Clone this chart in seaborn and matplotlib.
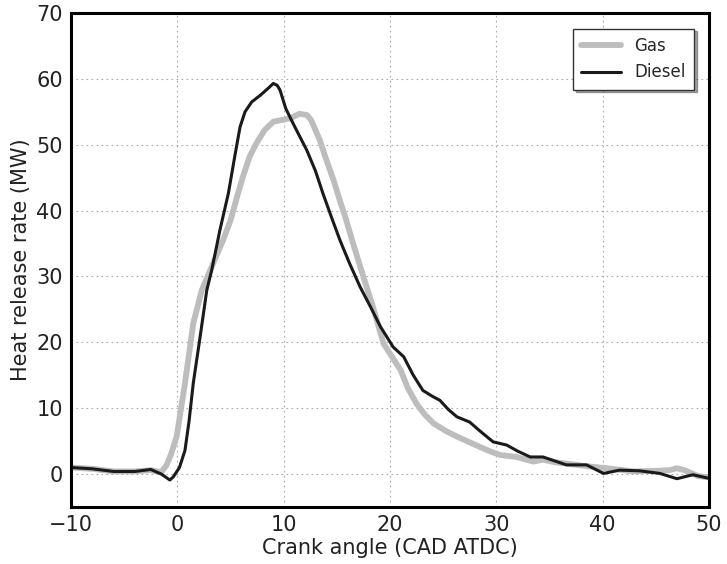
import matplotlib
matplotlib.use("Agg")
import matplotlib.pyplot as plt
import seaborn as sns
import pandas as pd

diesel_x = [-10, -8, -6, -4, -2.5, -1.5, -0.7, -0.37, 0.2, 0.72, 1.1, 1.5, 2.14, 2.77, 3.24,
            4.0, 4.8, 5.4, 5.9, 6.37, 7.0, 7.8, 8.5, 9.03, 9.4, 9.66, 10.2, 10.9, 11.5, 12.17,
            13.0, 13.7, 14.5, 15.3, 16.2, 17.2, 18.2, 19.1, 20.3, 21.3, 22.2, 23.1, 24.0, 24.7,
            25.5, 26.3, 27.5, 28.5, 29.7, 31.0, 32.0, 33.2, 34.4, 35.5, 36.6, 38.5, 40.1, 41.6,
            43.5, 45.4, 47.0, 48.5, 49.9]
diesel_y = [1.0, 0.8, 0.4, 0.4, 0.7, 0.0, -0.9, -0.4, 1.0, 3.6, 8, 13.8, 20.8, 27.9, 31,
            37, 42.6, 48.2, 52.7, 55, 56.5, 57.5, 58.5, 59.3, 59.0, 58.3, 55.5, 53.2, 51.3, 49.2,
            46, 42.6, 39, 35.5, 32, 28.4, 25.3, 22.4, 19.3, 17.8, 15, 12.7, 11.8, 11.2,
            9.8, 8.7, 7.9, 6.5, 4.9, 4.4, 3.5, 2.6, 2.6, 2.0, 1.4, 1.4, 0.1, 0.6,
            0.5, 0.1, -0.7, -0.1, -0.6]

gas_x = [-10, -8, -6, -4, -2.5, -1.5, -1.0, -0.6, -0.06, 0.72, 1.5, 2.3, 3.24, 4.3, 5.0,
         5.6, 6.2, 6.8, 7.47, 8.2, 9.03, 9.66, 10.6, 11.5, 12.2, 12.6, 13.4, 14.0, 14.7,
         15.3, 15.9, 16.5, 17.2, 18.4, 19.4, 20.2, 21.0, 21.7, 22.5, 23.3, 24.1, 25.2, 26.3,
         27.4, 28.5, 29.5, 30.4, 31.9, 33.5, 34.4, 35.5, 36.6, 38.5, 40.4, 42.9, 45, 46.3,
         47, 47.7, 49, 50]
gas_y = [1.0, 0.8, 0.4, 0.4, 0.6, 0.3, 1.4, 3.0, 5.7, 13.8, 22.9, 27.9, 31.5, 35.5, 38.5,
         42, 45.3, 48.2, 50.3, 52.2, 53.5, 53.7, 54, 54.7, 54.5, 53.7, 50.7, 47.8, 44.6,
         41.5, 38.5, 35.2, 31.5, 25.4, 19.8, 17.8, 15.8, 13, 10.7, 9, 7.7, 6.6, 5.7,
         4.9, 4.1, 3.4, 2.9, 2.6, 1.9, 2.2, 1.8, 1.6, 1.2, 0.9, 0.4, 0.5, 0.6,
         0.9, 0.6, -0.3, -0.5]

x_ticks = [-10, 0, 10, 20, 30, 40, 50]
y_ticks = [0, 10, 20, 30, 40, 50, 60, 70]

sns.set_style("white")
plt.rcParams['font.family'] = ['DejaVu Sans']

fig = plt.figure(figsize=(7.27, 5.64), dpi=100)
ax = fig.add_axes([0.0977, 0.101, 0.8773, 0.876])

gas_df = pd.DataFrame({"x": gas_x, "y": gas_y})
diesel_df = pd.DataFrame({"x": diesel_x, "y": diesel_y})

sns.lineplot(data=gas_df, x="x", y="y", ax=ax, sort=False, estimator=None,
             color="#bdbdbd", linewidth=4.2, label="Gas")
sns.lineplot(data=diesel_df, x="x", y="y", ax=ax, sort=False, estimator=None,
             color="#1a1a1a", linewidth=2.2, label="Diesel")

ax.set_xlim(-10, 50)
ax.set_ylim(-5, 70)
ax.set_xticks(x_ticks)
ax.set_yticks(y_ticks)
ax.set_xticklabels(["\u221210" if t < 0 else str(t) for t in x_ticks])
ax.tick_params(axis="both", labelsize=15, length=0, pad=6, colors="#222222")
ax.grid(True, linestyle=(0, (1.5, 3)), color="#aaaaaa", linewidth=0.8)
for s in ax.spines.values():
    s.set_visible(True)
    s.set_color("black")
    s.set_linewidth(2.2)

ax.set_xlabel("Crank angle (CAD ATDC)", fontsize=15, color="#222222", labelpad=2)
ax.set_ylabel("Heat release rate (MW)", fontsize=15, color="#222222", labelpad=4)

leg = ax.legend(loc="upper right", fontsize=12, frameon=True, fancybox=False,
                shadow=True, borderpad=0.5, handlelength=2.4, labelspacing=0.5,
                bbox_to_anchor=(0.99, 0.985))
leg.get_frame().set_edgecolor("#333333")
leg.get_frame().set_linewidth(1.0)

fig.savefig("out.png", dpi=100)
